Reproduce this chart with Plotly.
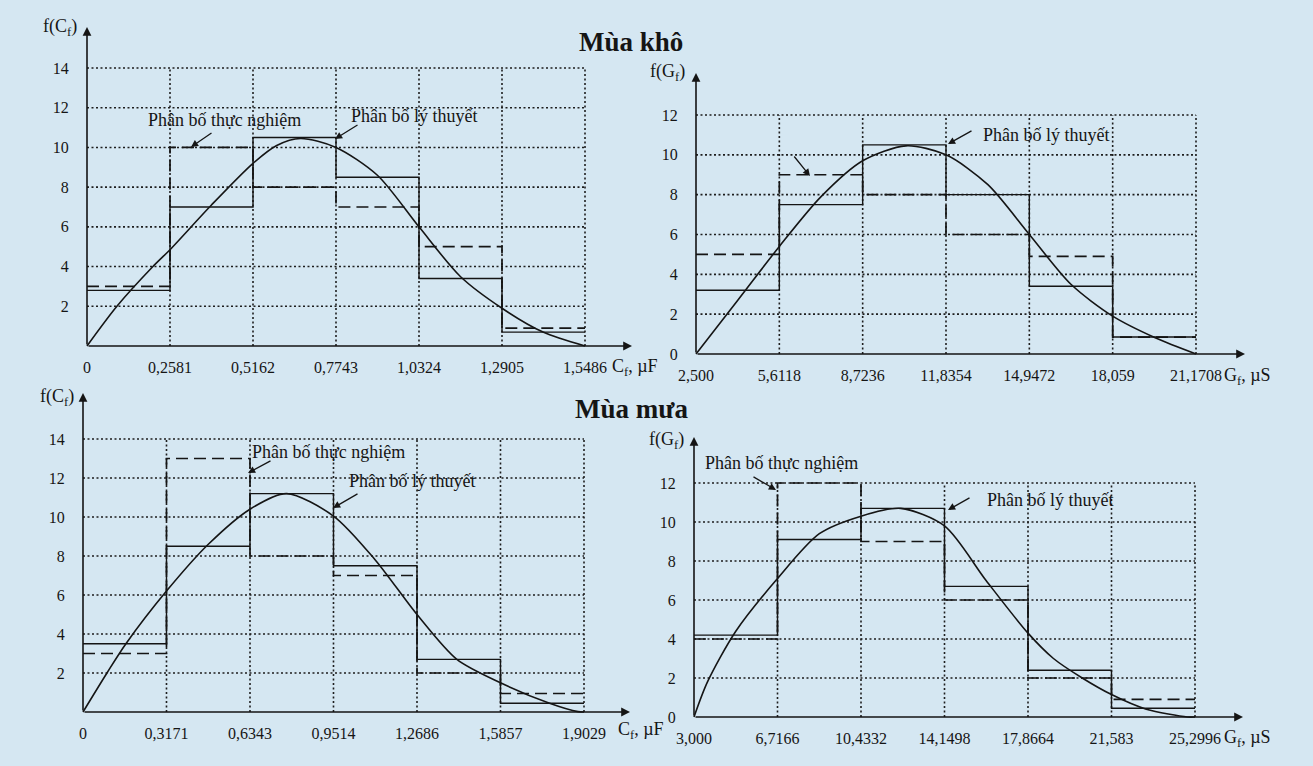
import plotly.graph_objects as go

W, H = 1313, 766

# ---------------- data ----------------
# Mùa khô – C_f
cdry_edges = [0, 0.2581, 0.5162, 0.7743, 1.0324, 1.2905, 1.5486]
cdry_labels = ["0", "0,2581", "0,5162", "0,7743", "1,0324", "1,2905", "1,5486"]
cdry_theory = [2.8, 7.0, 10.5, 8.5, 3.4, 0.7]
cdry_empirical = [3.0, 10.0, 8.0, 7.0, 5.0, 0.9]
cdry_curve_x = [0, 0.093, 0.205, 0.2581, 0.387, 0.5162, 0.59, 0.664, 0.7743, 0.903, 1.0324, 1.161, 1.2905, 1.418, 1.5486]
cdry_curve_y = [0, 2.0, 4.0, 4.85, 7.1, 9.2, 10.1, 10.45, 10.0, 8.6, 6.0, 3.5, 1.9, 0.7, 0.0]
cdry_yticks = [2, 4, 6, 8, 10, 12, 14]

# Mùa khô – G_f
gdry_edges = [2.5, 5.6118, 8.7236, 11.8354, 14.9472, 18.059, 21.1708]
gdry_labels = ["2,500", "5,6118", "8,7236", "11,8354", "14,9472", "18,059", "21,1708"]
gdry_theory = [3.2, 7.5, 10.5, 8.0, 3.4, 0.85]
gdry_empirical = [5.0, 9.0, 8.0, 6.0, 4.9, 0.85]
gdry_curve_x = [2.5, 4.06, 5.6118, 7.17, 8.7236, 10.34, 11.8354, 13.4, 14.9472, 16.5, 18.059, 19.67, 21.1708]
gdry_curve_y = [0, 2.7, 5.4, 7.9, 9.7, 10.45, 10.0, 8.5, 6.0, 3.5, 1.9, 0.8, 0.0]
gdry_yticks = [0, 2, 4, 6, 8, 10, 12]

# Mùa mưa – C_f
cwet_edges = [0, 0.3171, 0.6343, 0.9514, 1.2686, 1.5857, 1.9029]
cwet_labels = ["0", "0,3171", "0,6343", "0,9514", "1,2686", "1,5857", "1,9029"]
cwet_theory = [3.5, 8.5, 11.2, 7.5, 2.7, 0.45]
cwet_empirical = [3.0, 13.0, 8.0, 7.0, 2.0, 0.95]
cwet_curve_x = [0, 0.091, 0.163, 0.3171, 0.476, 0.6343, 0.773, 0.9514, 1.11, 1.2686, 1.42, 1.5857, 1.772, 1.88, 1.9029]
cwet_curve_y = [0, 2.0, 3.5, 6.2, 8.6, 10.4, 11.2, 10.05, 7.8, 5.0, 2.7, 1.5, 0.45, 0.02, 0.0]
cwet_yticks = [2, 4, 6, 8, 10, 12, 14]

# Mùa mưa – G_f
gwet_edges = [3.0, 6.7166, 10.4332, 14.1498, 17.8664, 21.583, 25.2996]
gwet_labels = ["3,000", "6,7166", "10,4332", "14,1498", "17,8664", "21,583", "25,2996"]
gwet_theory = [4.2, 9.1, 10.7, 6.7, 2.4, 0.45]
gwet_empirical = [4.0, 12.0, 9.0, 6.0, 2.0, 0.9]
gwet_curve_x = [3.0, 3.6, 4.86, 6.7166, 8.58, 10.4332, 12.2, 14.1498, 16.0, 17.8664, 19.0, 20.28, 21.583, 23.13, 24.96, 25.2996]
gwet_curve_y = [0, 1.8, 4.4, 7.1, 9.4, 10.3, 10.7, 9.8, 7.0, 4.3, 3.0, 2.0, 1.15, 0.4, 0.0, 0.0]
gwet_yticks = [0, 2, 4, 6, 8, 10, 12]

label_emp = "Phân bố thực nghiệm"
label_theo = "Phân bố lý thuyết"

# ---------------- layout constants (pixels) ----------------
# x0: px of first edge, x1: px of last edge, xa: arrow end; y0: zero line, ytop: top grid, ya: arrow top
panels = [
    dict(edges=cdry_edges, labels=cdry_labels, theo=cdry_theory, emp=cdry_empirical,
         cx=cdry_curve_x, cy=cdry_curve_y, yt=cdry_yticks, top=14,
         x0=87, x1=585, xa=632, y0=346, ytop=68, ya=27,
         xtitle="C<sub>f</sub>, µF", ytitle="f(C<sub>f</sub>)", xt_pos=(610, 367), yt_pos=(60, 28)),
    dict(edges=gdry_edges, labels=gdry_labels, theo=gdry_theory, emp=gdry_empirical,
         cx=gdry_curve_x, cy=gdry_curve_y, yt=gdry_yticks, top=12,
         x0=696, x1=1196, xa=1245, y0=354, ytop=115, ya=73,
         xtitle="G<sub>f</sub>, µS", ytitle="f(G<sub>f</sub>)", xt_pos=(1222, 376), yt_pos=(668, 72)),
    dict(edges=cwet_edges, labels=cwet_labels, theo=cwet_theory, emp=cwet_empirical,
         cx=cwet_curve_x, cy=cwet_curve_y, yt=cwet_yticks, top=14,
         x0=83, x1=584, xa=630, y0=712, ytop=439, ya=393,
         xtitle="C<sub>f</sub>, µF", ytitle="f(C<sub>f</sub>)", xt_pos=(616, 730), yt_pos=(57, 397)),
    dict(edges=gwet_edges, labels=gwet_labels, theo=gwet_theory, emp=gwet_empirical,
         cx=gwet_curve_x, cy=gwet_curve_y, yt=gwet_yticks, top=12,
         x0=694, x1=1195, xa=1243, y0=717, ytop=483, ya=437,
         xtitle="G<sub>f</sub>, µS", ytitle="f(G<sub>f</sub>)", xt_pos=(1222, 738), yt_pos=(666, 440)),
]

INK = "#151515"
GRID = "#1e1e1e"
BG = "#d5e7f2"
FONT = "Liberation Serif"
TICK_SIZE = 16
ANN_SIZE = 18
PAD = 6

fig = go.Figure()
annotations = []
layout_axes = {}


def px(xp, yp):
    return xp / W, 1 - yp / H


for i, p in enumerate(panels, start=1):
    xs = "x" if i == 1 else f"x{i}"
    ys = "y" if i == 1 else f"y{i}"
    xkey = "xaxis" if i == 1 else f"xaxis{i}"
    ykey = "yaxis" if i == 1 else f"yaxis{i}"
    e = p["edges"]
    sx = (p["x1"] - p["x0"]) / (e[-1] - e[0])
    sy = (p["y0"] - p["ytop"]) / p["top"]

    # grid (dotted)
    gx, gy = [], []
    for v in p["yt"]:
        if v == 0:
            continue
        gx += [e[0], e[-1], None]
        gy += [v, v, None]
    for v in e[1:]:
        gx += [v, v, None]
        gy += [0, p["top"], None]
    fig.add_trace(go.Scatter(x=gx, y=gy, mode="lines", xaxis=xs, yaxis=ys,
                             line=dict(color=GRID, width=1.6, dash="2px,2.5px"),
                             hoverinfo="skip", showlegend=False))
    # empirical histogram (dashed)
    fig.add_trace(go.Scatter(x=e, y=p["emp"] + [p["emp"][-1]], mode="lines", xaxis=xs, yaxis=ys,
                             line=dict(color=INK, width=1.7, dash="12px,6px", shape="hv"),
                             hoverinfo="skip", showlegend=False))
    # theoretical histogram (solid)
    fig.add_trace(go.Scatter(x=e, y=p["theo"] + [p["theo"][-1]], mode="lines", xaxis=xs, yaxis=ys,
                             line=dict(color=INK, width=1.4, shape="hv"),
                             hoverinfo="skip", showlegend=False))
    # theoretical curve
    fig.add_trace(go.Scatter(x=p["cx"], y=p["cy"], mode="lines", xaxis=xs, yaxis=ys,
                             line=dict(color=INK, width=1.6, shape="spline", smoothing=0.8),
                             hoverinfo="skip", showlegend=False))

    xl, xr = p["x0"] - PAD, p["xa"] + 3
    yb, ytp = p["y0"] + PAD, p["ya"] - 3
    layout_axes[xkey] = dict(
        domain=[xl / W, xr / W], range=[e[0] - PAD / sx, e[0] + (xr - p["x0"]) / sx],
        anchor=ys, showgrid=False, zeroline=False, showline=False, automargin=False,
        tickmode="array", tickvals=e, ticktext=p["labels"], ticks="outside", ticklen=1,
        tickcolor="rgba(0,0,0,0)", tickfont=dict(family=FONT, size=TICK_SIZE, color=INK),
        fixedrange=True)
    layout_axes[ykey] = dict(
        domain=[1 - yb / H, 1 - ytp / H], range=[-PAD / sy, (p["y0"] - ytp) / sy],
        anchor=xs, showgrid=False, zeroline=False, showline=False, automargin=False,
        tickmode="array", tickvals=p["yt"], ticktext=[str(v) for v in p["yt"]],
        ticks="outside", ticklen=8, tickcolor="rgba(0,0,0,0)",
        tickfont=dict(family=FONT, size=TICK_SIZE, color=INK), fixedrange=True)

    # axis arrows
    annotations.append(dict(x=e[0] + (p["xa"] - p["x0"]) / sx, y=0, ax=e[0], ay=0,
                            xref=xs, yref=ys, axref=xs, ayref=ys, text="", showarrow=True,
                            arrowhead=2, arrowsize=1.1, arrowwidth=1.6, arrowcolor=INK))
    annotations.append(dict(x=e[0], y=(p["y0"] - p["ya"]) / sy, ax=e[0], ay=0,
                            xref=xs, yref=ys, axref=xs, ayref=ys, text="", showarrow=True,
                            arrowhead=2, arrowsize=1.1, arrowwidth=1.6, arrowcolor=INK))
    # axis titles
    xx, yy = px(*p["xt_pos"])
    annotations.append(dict(x=xx, y=yy, xref="paper", yref="paper", text=p["xtitle"],
                            xanchor="left", yanchor="middle", showarrow=False,
                            font=dict(family=FONT, size=TICK_SIZE + 2, color=INK)))
    xx, yy = px(*p["yt_pos"])
    annotations.append(dict(x=xx, y=yy, xref="paper", yref="paper", text=p["ytitle"],
                            xanchor="center", yanchor="middle", showarrow=False,
                            font=dict(family=FONT, size=TICK_SIZE + 2, color=INK)))

# panel labels and pointer arrows (pixel positions)
texts = [
    (label_emp, 224, 120), (label_theo, 414, 116),
    (label_theo, 1046, 135),
    (label_emp, 328, 452), (label_theo, 412, 481),
    (label_emp, 781, 463), (label_theo, 1050, 500),
]
for t, xp, yp in texts:
    xx, yy = px(xp, yp)
    annotations.append(dict(x=xx, y=yy, xref="paper", yref="paper", text=t, showarrow=False,
                            xanchor="center", yanchor="middle",
                            font=dict(family=FONT, size=ANN_SIZE, color=INK)))

pointers = [  # (tail px, tip px)
    ((213, 132), (191, 147)), ((359, 124), (335, 139)),
    ((973, 130), (948, 144)), ((793, 155), (810, 176)),
    ((272, 460), (248, 473)), ((359, 493), (333, 508)),
    ((752, 476), (776, 490)), ((971, 497), (948, 510)),
]
for (tx, ty), (hx, hy) in pointers:
    xx, yy = px(hx, hy)
    annotations.append(dict(x=xx, y=yy, xref="paper", yref="paper", ax=tx - hx, ay=ty - hy,
                            axref="pixel", ayref="pixel", text="", showarrow=True,
                            arrowhead=2, arrowsize=1.1, arrowwidth=1.3, arrowcolor=INK))

# season titles
for t, xp, yp in [("Mùa khô", 631, 42), ("Mùa mưa", 631, 409)]:
    xx, yy = px(xp, yp)
    annotations.append(dict(x=xx, y=yy, xref="paper", yref="paper", text=f"<b>{t}</b>",
                            showarrow=False, xanchor="center", yanchor="middle",
                            font=dict(family=FONT, size=27, color=INK)))

fig.update_layout(
    width=W, height=H, margin=dict(l=0, r=0, t=0, b=0, autoexpand=False),
    paper_bgcolor=BG, plot_bgcolor="rgba(0,0,0,0)",
    showlegend=False, hovermode=False, annotations=annotations, **layout_axes)

fig.write_html(
    "out.html",
    config={"displayModeBar": False, "staticPlot": True},
    post_script=("document.body.style.margin='0px';"
                 "document.body.style.overflow='hidden';"
                 f"document.body.style.background='{BG}';"),
)
